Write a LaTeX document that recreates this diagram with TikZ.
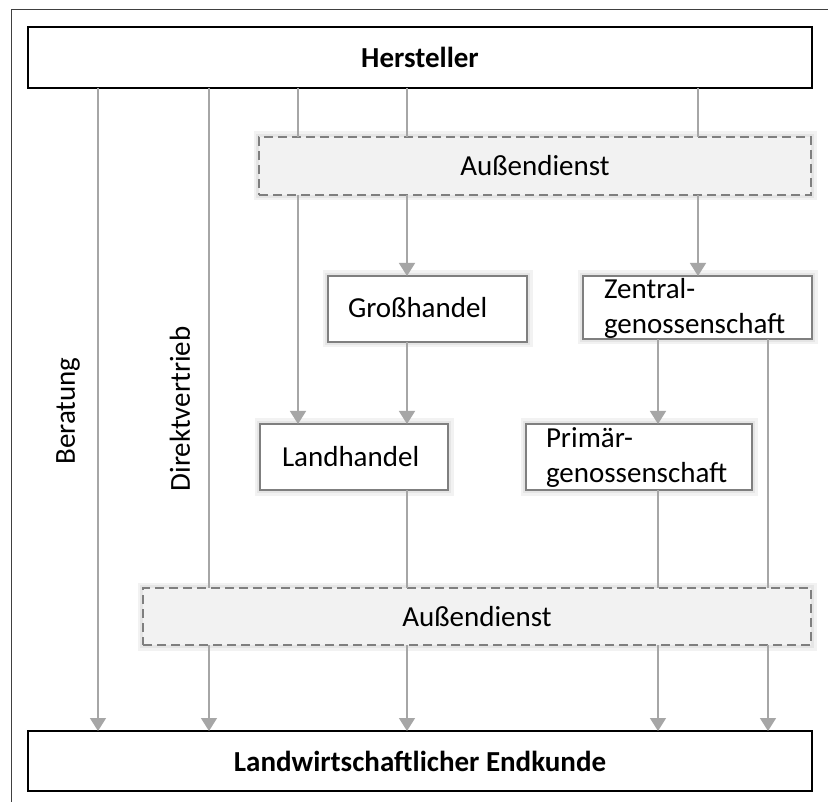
\documentclass[tikz,border=0pt]{standalone}
\usepackage{fontspec}
\setmainfont{Carlito}
\usetikzlibrary{arrows.meta}
\definecolor{linegray}{HTML}{A6A6A6}
\definecolor{boxgray}{HTML}{7F7F7F}
\definecolor{adfill}{HTML}{F2F2F2}
\begin{document}
\begin{tikzpicture}[x=1pt,y=-1pt,
  every node/.style={font=\fontsize{29}{35}\selectfont, inner sep=0pt, outer sep=0pt},
  glow/.style={preaction={draw=black!5, line width=11pt, solid},
               preaction={draw=black!10, line width=6pt, solid}},
  mainbox/.style={draw=black, line width=2.4pt, fill=white, rectangle},
  orgbox/.style={glow, draw=boxgray, line width=2pt, fill=white, rectangle},
  adbox/.style={glow, draw=boxgray, line width=1.8pt, fill=adfill, rectangle,
                dash pattern=on 9pt off 5pt},
  conn/.style={draw=linegray, line width=1.5pt},
  arr/.style={conn, -{Triangle[width=16pt,length=13pt,fill=linegray]}},
  lbl/.style={anchor=base west, align=left}
]
\useasboundingbox (0,0) rectangle (828,802);
\fill[white] (0,0) rectangle (828,802);
\draw[black!75, line width=1pt] (11,802) -- (11,10) -- (828,10);

% boxes
\node[mainbox, minimum width=784pt, minimum height=61pt] (hst) at (420,57.5) {\bfseries Hersteller};
\node[mainbox, minimum width=784pt, minimum height=60pt] (end) at (420,761) {\bfseries Landwirtschaftlicher Endkunde};
\node[adbox, minimum width=552pt, minimum height=58pt] (ad1) at (535,166) {Außendienst};
\node[adbox, minimum width=668pt, minimum height=57pt] (ad2) at (477,616.5) {Außendienst};
\node[orgbox, minimum width=199pt, minimum height=66pt] (gh) at (427.5,309) {};
\node[orgbox, minimum width=188pt, minimum height=66pt] (lh) at (354,457) {};
\node[orgbox, minimum width=229pt, minimum height=63pt] (zg) at (697.5,307.5) {};
\node[orgbox, minimum width=226pt, minimum height=66pt] (pg) at (639,457) {};

% box texts
\node[lbl] (ght) at (348,318) {Großhandel};
\node[lbl] (lht) at (282,467) {Landhandel};
\node[lbl, anchor=north west] (zgt) at (604,278) {Zentral-\\genossenschaft};
\node[lbl, anchor=north west] (pgt) at (546,428) {Primär-\\genossenschaft};

% side labels
\node[rotate=90] (ber) at (68,411) {Beratung};
\node[rotate=90] (dir) at (180,409) {Direktvertrieb};

% x positions of connectors
\coordinate (xB) at (98,0);
\coordinate (xD) at (209,0);
\coordinate (xa) at (298,0);
\coordinate (xb) at (407,0);
\coordinate (xc) at (698,0);
\coordinate (xd) at (658,0);
\coordinate (xe) at (768,0);

% connectors
\draw[arr] (hst.south -| xB) -- (end.north -| xB);

\draw[conn] (hst.south -| xD) -- (ad2.north -| xD);
\draw[arr] (ad2.south -| xD) -- (end.north -| xD);

\draw[conn] (hst.south -| xa) -- (ad1.north -| xa);
\draw[arr] (ad1.south -| xa) -- (lh.north -| xa);

\draw[conn] (hst.south -| xb) -- (ad1.north -| xb);
\draw[arr] (ad1.south -| xb) -- (gh.north -| xb);
\draw[arr] (gh.south -| xb) -- (lh.north -| xb);
\draw[conn] (lh.south -| xb) -- (ad2.north -| xb);
\draw[arr] (ad2.south -| xb) -- (end.north -| xb);

\draw[conn] (hst.south -| xc) -- (ad1.north -| xc);
\draw[arr] (ad1.south -| xc) -- (zg.north -| xc);

\draw[arr] (zg.south -| xd) -- (pg.north -| xd);
\draw[conn] (pg.south -| xd) -- (ad2.north -| xd);
\draw[arr] (ad2.south -| xd) -- (end.north -| xd);

\draw[conn] (zg.south -| xe) -- (ad2.north -| xe);
\draw[arr] (ad2.south -| xe) -- (end.north -| xe);
\end{tikzpicture}
\end{document}
